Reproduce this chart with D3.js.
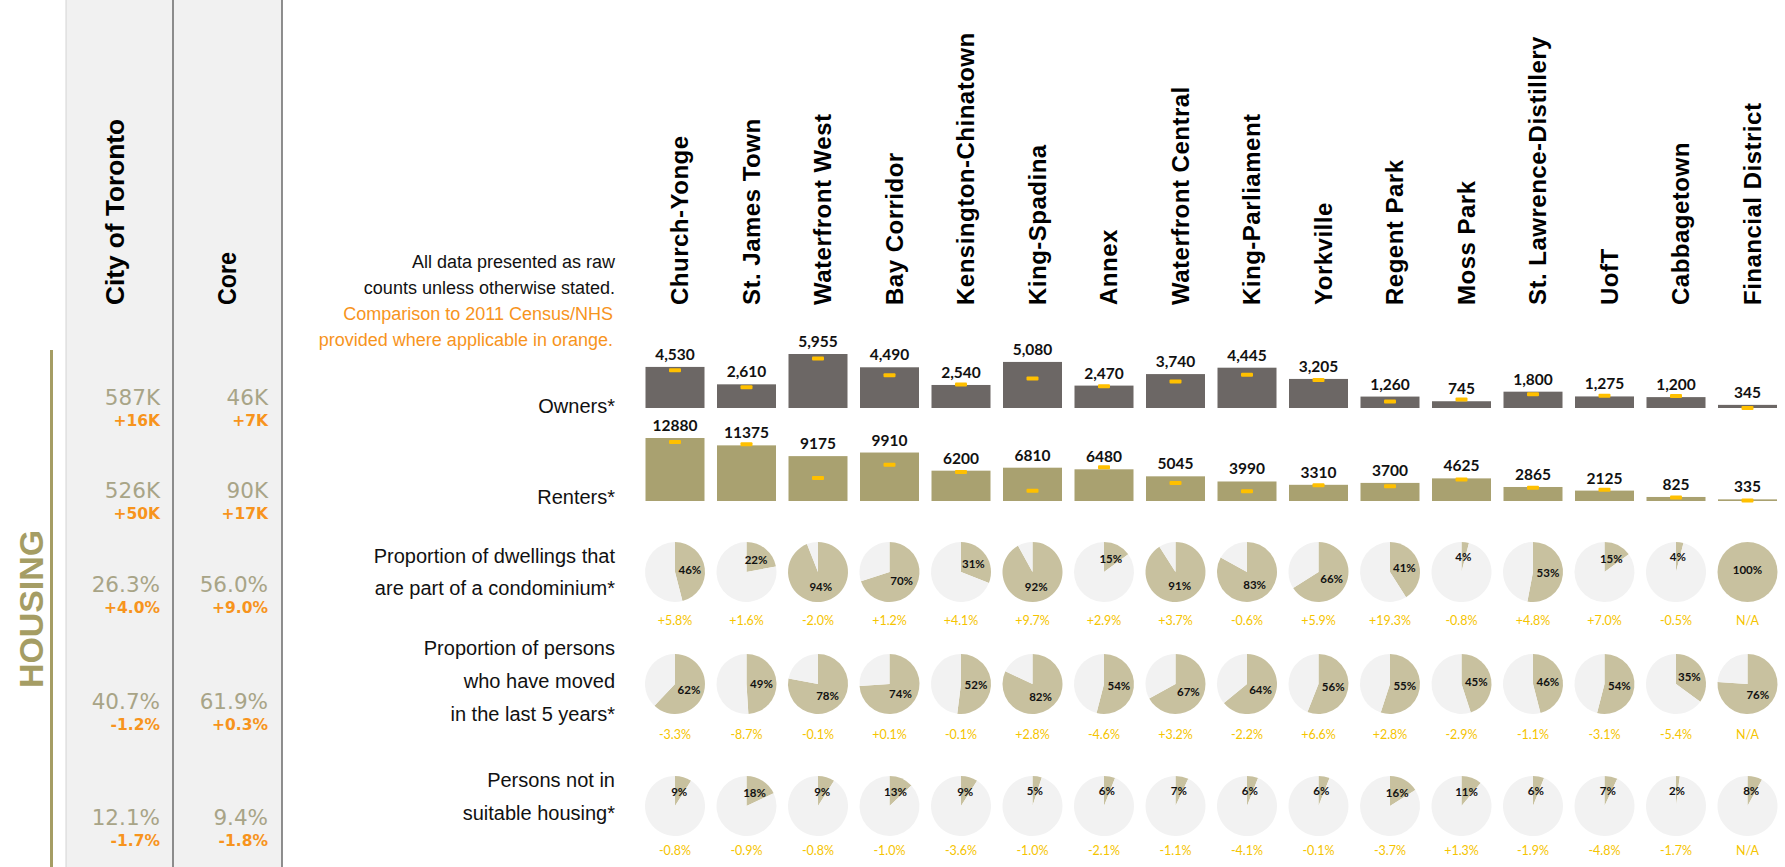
<!DOCTYPE html>
<html>
<head>
<meta charset="utf-8">
<script src="https://cdn.jsdelivr.net/npm/d3@7"></script>
<style>
  html, body { margin: 0; padding: 0; background: #fff; }
  svg { display: block; }
</style>
</head>
<body>
<svg id="chart" width="1785" height="867"></svg>
<script>
// ---- data ----
const neighbourhoods = ['Church-Yonge', 'St. James Town', 'Waterfront West', 'Bay Corridor',
  'Kensington-Chinatown', 'King-Spadina', 'Annex', 'Waterfront Central', 'King-Parliament',
  'Yorkville', 'Regent Park', 'Moss Park', 'St. Lawrence-Distillery', 'UofT', 'Cabbagetown',
  'Financial District'];

const owners     = [4530, 2610, 5955, 4490, 2540, 5080, 2470, 3740, 4445, 3205, 1260, 745, 1800, 1275, 1200, 345];
const owners2011 = [4165, 2275, 5450, 3605, 2600, 3255, 2395, 2935, 3675, 3095, 710, 950, 1530, 1350, 1315, 0];
const renters     = [12880, 11375, 9175, 9910, 6200, 6810, 6480, 5045, 3990, 3310, 3700, 4625, 2865, 2125, 825, 335];
const renters2011 = [12045, 11580, 4690, 7415, 5920, 2100, 6910, 3655, 2000, 3200, 3000, 4400, 2700, 2300, 700, 100];

const condo       = [46, 22, 94, 70, 31, 92, 15, 91, 83, 66, 41, 4, 53, 15, 4, 100];
const condoChange = ['+5.8%', '+1.6%', '-2.0%', '+1.2%', '+4.1%', '+9.7%', '+2.9%', '+3.7%', '-0.6%', '+5.9%', '+19.3%', '-0.8%', '+4.8%', '+7.0%', '-0.5%', 'N/A'];
const moved       = [62, 49, 78, 74, 52, 82, 54, 67, 64, 56, 55, 45, 46, 54, 35, 76];
const movedChange = ['-3.3%', '-8.7%', '-0.1%', '+0.1%', '-0.1%', '+2.8%', '-4.6%', '+3.2%', '-2.2%', '+6.6%', '+2.8%', '-2.9%', '-1.1%', '-3.1%', '-5.4%', 'N/A'];
const unsuitable       = [9, 18, 9, 13, 9, 5, 6, 7, 6, 6, 16, 11, 6, 7, 2, 8];
const unsuitableChange = ['-0.8%', '-0.9%', '-0.8%', '-1.0%', '-3.6%', '-1.0%', '-2.1%', '-1.1%', '-4.1%', '-0.1%', '-3.7%', '+1.3%', '-1.9%', '-4.8%', '-1.7%', 'N/A'];

const rowLabels = [
  ['Owners*'],
  ['Renters*'],
  ['Proportion of dwellings that', 'are part of a condominium*'],
  ['Proportion of persons', 'who have moved', 'in the last 5 years*'],
  ['Persons not in', 'suitable housing*']
];
const cityValues  = ['587K', '526K', '26.3%', '40.7%', '12.1%'];
const cityChanges = ['+16K', '+50K', '+4.0%', '-1.2%', '-1.7%'];
const coreValues  = ['46K', '90K', '56.0%', '61.9%', '9.4%'];
const coreChanges = ['+7K', '+17K', '+9.0%', '+0.3%', '-1.8%'];

const noteLines = ['All data presented as raw', 'counts unless otherwise stated.',
  'Comparison to 2011 Census/NHS', 'provided where applicable in orange.'];

// ---- layout ----
const OLIVE = '#a59d64', ORANGE = '#f7941d', YELLOW = '#f5c400';
const rowLabelY = [[406], [497], [556, 588], [648, 681, 714], [780, 813]];
const leftValueY = [397, 490, 584, 701, 817];
const pieY = [572, 684, 806], pieChangeY = [621, 735, 851];
const PIE_R = 30, BAR_W = 59;

const svg = d3.select('#chart');
const x = d3.scalePoint().domain(neighbourhoods).range([675, 1747.5]);
const yOwn = d3.scaleLinear().domain([0, d3.max(owners)]).range([408, 354]);
const yRent = d3.scaleLinear().domain([0, d3.max(renters)]).range([501, 438]);

// left panels (City of Toronto / Core)
svg.append('rect').attr('x', 66).attr('y', 0).attr('width', 216).attr('height', 867).attr('fill', '#f1f1f1');
svg.append('line').attr('x1', 66).attr('x2', 66).attr('y1', 0).attr('y2', 867).attr('stroke', '#d4d4d4');
[173, 282].forEach(px => {
  svg.append('line').attr('x1', px).attr('x2', px).attr('y1', 0).attr('y2', 867)
    .attr('stroke', '#6a6a6a').attr('stroke-width', 1.5);
});

const condensed = '"Liberation Sans Narrow", "Arial Narrow", "Liberation Sans", Arial, sans-serif';
svg.append('text').attr('transform', 'translate(124,305) rotate(-90)')
  .attr('font-family', condensed).attr('font-weight', 700).attr('font-size', 26)
  .attr('textLength', 186).attr('lengthAdjust', 'spacingAndGlyphs')
  .text('City of Toronto');
svg.append('text').attr('transform', 'translate(236,305) rotate(-90)')
  .attr('font-family', condensed).attr('font-weight', 700).attr('font-size', 26)
  .attr('textLength', 53).attr('lengthAdjust', 'spacingAndGlyphs')
  .text('Core');

// HOUSING section marker
svg.append('rect').attr('x', 50).attr('y', 350).attr('width', 3).attr('height', 517).attr('fill', OLIVE);
svg.append('text').attr('transform', 'translate(43,609) rotate(-90)')
  .attr('text-anchor', 'middle').attr('font-family', condensed).attr('font-weight', 700)
  .attr('font-size', 34).attr('fill', OLIVE)
  .attr('textLength', 158).attr('lengthAdjust', 'spacingAndGlyphs')
  .text('HOUSING');

// left column values
function leftColumn(vals, chgs, right) {
  const g = svg.append('g').attr('font-family', '"DejaVu Sans", Verdana, sans-serif').attr('text-anchor', 'end');
  g.selectAll('text.v').data(vals).join('text').attr('class', 'v')
    .attr('x', right).attr('y', (d, i) => leftValueY[i] + 8)
    .attr('font-size', 21.5).attr('fill', '#a8a487').text(d => d);
  g.selectAll('text.c').data(chgs).join('text').attr('class', 'c')
    .attr('x', right).attr('y', (d, i) => leftValueY[i] + 29)
    .attr('font-size', 15.5).attr('font-weight', 700).attr('fill', ORANGE).text(d => d);
}
leftColumn(cityValues, cityChanges, 160);
leftColumn(coreValues, coreChanges, 268);

// note
svg.append('g').attr('font-family', '"Liberation Sans", Arial, sans-serif').attr('font-size', 18)
  .attr('text-anchor', 'end')
  .selectAll('text').data(noteLines).join('text')
  .attr('x', (d, i) => i < 2 ? 615 : 613).attr('y', (d, i) => 268 + i * 26)
  .attr('fill', (d, i) => i < 2 ? '#111' : ORANGE)
  .text(d => d);

// row labels
rowLabels.forEach((lines, r) => {
  svg.append('g').attr('font-family', '"Liberation Sans", Arial, sans-serif').attr('font-size', 20)
    .attr('text-anchor', 'end').attr('fill', '#111')
    .selectAll('text').data(lines).join('text')
    .attr('x', 615).attr('y', (d, i) => rowLabelY[r][i] + 7).text(d => d);
});

// column headers
svg.append('g').attr('font-family', '"Liberation Sans", Arial, sans-serif').attr('font-weight', 700)
  .attr('font-size', 24).attr('letter-spacing', 0.5).attr('fill', '#000')
  .selectAll('text').data(neighbourhoods).join('text')
  .attr('transform', d => `translate(${x(d) + 13},305) rotate(-90)`)
  .text(d => d);

// bars
function barRow(values, base, y, fill, fmt) {
  const g = svg.append('g');
  const rows = values.map((v, i) => ({ name: neighbourhoods[i], v, b: base[i] }));
  g.selectAll('rect.bar').data(rows).join('rect').attr('class', 'bar')
    .attr('x', d => x(d.name) - BAR_W / 2).attr('width', BAR_W)
    .attr('y', d => y(d.v)).attr('height', d => Math.max(1.5, y(0) - y(d.v)))
    .attr('fill', fill);
  g.selectAll('rect.mark').data(rows).join('rect').attr('class', 'mark')
    .attr('x', d => x(d.name) - 6).attr('width', 12)
    .attr('y', d => y(d.b) - 2).attr('height', 4).attr('rx', 1)
    .attr('fill', '#ffc000');
  g.selectAll('text').data(rows).join('text')
    .attr('x', d => x(d.name)).attr('y', d => y(d.v) - 7)
    .attr('text-anchor', 'middle').attr('font-family', 'Lato, "Open Sans", sans-serif')
    .attr('font-weight', 700).attr('font-size', 15.5).attr('fill', '#111')
    .text(d => fmt(d.v));
}
barRow(owners, owners2011, yOwn, '#6c6765', d3.format(','));
barRow(renters, renters2011, yRent, '#a9a170', d => d);

// pies
const pie = d3.pie().sort(null).value(d => d);
const arc = d3.arc().innerRadius(0).outerRadius(PIE_R);
function pieRow(values, changes, cy, cly) {
  values.forEach((v, i) => {
    const g = svg.append('g').attr('transform', `translate(${x(neighbourhoods[i])},${cy})`);
    const arcs = pie([v, 100 - v]);
    g.selectAll('path').data(arcs).join('path')
      .attr('d', arc).attr('fill', (d, j) => j === 0 ? '#c8c19f' : '#f2f2f2');
    const c = v >= 100 ? [0, -2] : arc.centroid(arcs[0]);
    g.append('text').attr('x', c[0]).attr('y', c[1] + 4)
      .attr('text-anchor', 'middle').attr('font-family', 'Lato, sans-serif')
      .attr('font-weight', 700).attr('font-size', 11.5).attr('fill', '#111')
      .text(v + '%');
  });
  svg.append('g').selectAll('text').data(changes).join('text')
    .attr('x', (d, i) => x(neighbourhoods[i])).attr('y', cly + 4)
    .attr('text-anchor', 'middle').attr('font-family', 'Lato, sans-serif')
    .attr('font-size', 12.5).attr('fill', YELLOW).text(d => d);
}
pieRow(condo, condoChange, pieY[0], pieChangeY[0]);
pieRow(moved, movedChange, pieY[1], pieChangeY[1]);
pieRow(unsuitable, unsuitableChange, pieY[2], pieChangeY[2]);
</script>
</body>
</html>
